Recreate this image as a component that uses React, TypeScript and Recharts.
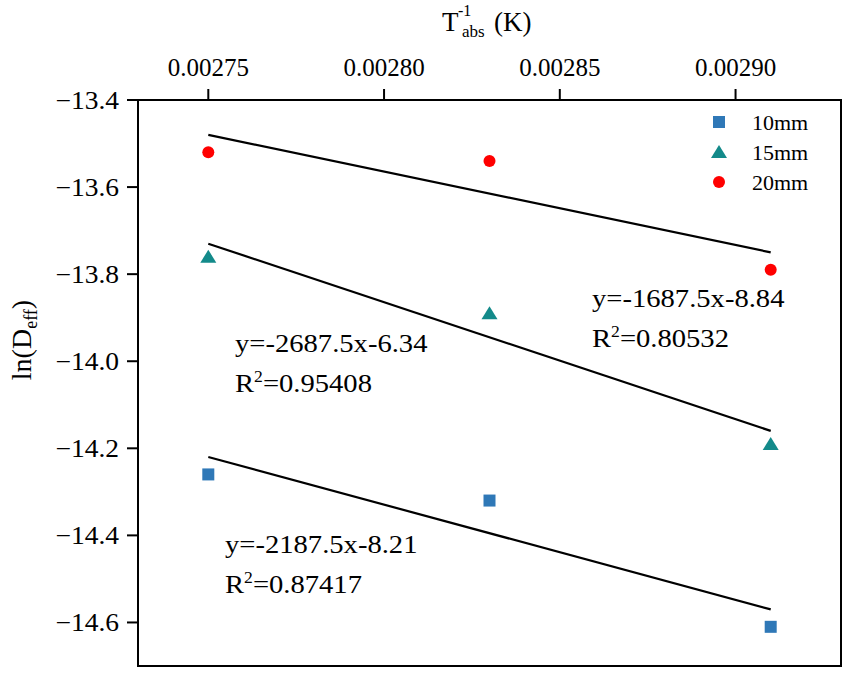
import { ScatterChart, Scatter, XAxis, YAxis, ReferenceArea, ReferenceLine } from "recharts";

const invTemp = [0.00275, 0.00283, 0.00291];
const ln10mm = [-14.26, -14.32, -14.61];
const ln15mm = [-13.76, -13.89, -14.19];
const ln20mm = [-13.52, -13.54, -13.79];

// fitted line ends, at first and last temperature
const fit10mm = [-14.22, -14.57];
const fit15mm = [-13.73, -14.16];
const fit20mm = [-13.48, -13.75];

const xTicks = [0.00275, 0.0028, 0.00285, 0.0029];
const yTicks = [-13.4, -13.6, -13.8, -14.0, -14.2, -14.4, -14.6];

const seriesNames = ["10mm", "15mm", "20mm"];
const equations = ["y=-2187.5x-8.21", "y=-2687.5x-6.34", "y=-1687.5x-8.84"];
const rSquared = ["0.87417", "0.95408", "0.80532"];

const BLUE = "#2f78b7";
const TEAL = "#138a8a";
const RED = "#ff0000";
const FONT = "'Liberation Serif', 'Times New Roman', serif";

const toPoints = (ys: number[]) => invTemp.map((x, i) => ({ x, y: ys[i] }));

const Square = (p: any) => <rect x={p.cx - 6} y={p.cy - 6} width={12} height={12} fill={BLUE} />;
const Triangle = (p: any) => (
  <polygon points={`${p.cx},${p.cy - 7} ${p.cx - 8},${p.cy + 6} ${p.cx + 8},${p.cy + 6}`} fill={TEAL} />
);
const Dot = (p: any) => <circle cx={p.cx} cy={p.cy} r={6} fill={RED} />;

const XTick = ({ x, y, payload }: any) => (
  <text x={x} y={y - 11} textAnchor="middle" fontSize={25} fontFamily={FONT} fill="#000">
    {payload.value.toFixed(5)}
  </text>
);

const YTick = ({ x, y, payload }: any) => (
  <text
    transform={`translate(${x - 6},${y}) scale(1.1,1)`}
    dy="0.35em"
    textAnchor="end"
    fontSize={25}
    fontFamily={FONT}
    fill="#000"
  >
    {payload.value.toFixed(1).replace("-", "\u2212")}
  </text>
);

const Stretched = ({ x, y, children, size = 26 }: any) => (
  <text transform={`translate(${x},${y}) scale(1.1,1)`} fontSize={size} fontFamily={FONT} fill="#000">
    {children}
  </text>
);

const labelPos = [
  { x: 225, y: 553 },
  { x: 235, y: 352 },
  { x: 592, y: 307 },
];

const legendMarks = [
  <rect key="s" x={713} y={116} width={12} height={12} fill={BLUE} />,
  <polygon key="t" points="719,145 711,158 727,158" fill={TEAL} />,
  <circle key="c" cx={719} cy={182} r={6} fill={RED} />,
];

export default function App() {
  const axisStroke = { stroke: "#000", strokeWidth: 2 };
  const fits = [fit10mm, fit15mm, fit20mm];
  return (
    <div style={{ position: "absolute", left: 0, top: 0, background: "#fff" }}>
      <ScatterChart width={847} height={673} margin={{ top: 40, right: 6, bottom: 7, left: 38 }}>
        <XAxis
          type="number"
          dataKey="x"
          orientation="top"
          height={60}
          domain={[0.00273, 0.00293]}
          ticks={xTicks}
          tickSize={11}
          axisLine={axisStroke}
          tickLine={axisStroke}
          tick={<XTick />}
          allowDataOverflow
        />
        <YAxis
          type="number"
          dataKey="y"
          width={100}
          domain={[-14.7, -13.4]}
          ticks={yTicks}
          tickSize={11}
          axisLine={axisStroke}
          tickLine={axisStroke}
          tick={<YTick />}
          allowDataOverflow
        />
        <ReferenceArea x1={0.00273} x2={0.00293} y1={-14.7} y2={-13.4} fill="none" stroke="#000" strokeWidth={2} />
        {fits.map((f, i) => (
          <ReferenceLine
            key={i}
            segment={[
              { x: invTemp[0], y: f[0] },
              { x: invTemp[invTemp.length - 1], y: f[1] },
            ]}
            stroke="#000"
            strokeWidth={2.2}
          />
        ))}
        <Scatter name={seriesNames[0]} data={toPoints(ln10mm)} shape={<Square />} isAnimationActive={false} />
        <Scatter name={seriesNames[1]} data={toPoints(ln15mm)} shape={<Triangle />} isAnimationActive={false} />
        <Scatter name={seriesNames[2]} data={toPoints(ln20mm)} shape={<Dot />} isAnimationActive={false} />

        {/* legend */}
        <g>
          {legendMarks}
          {seriesNames.map((n, i) => (
            <text key={n} x={752} y={130 + i * 30} fontSize={22} fontFamily={FONT} fill="#000">
              {n}
            </text>
          ))}
        </g>

        {/* fit equations */}
        {labelPos.map((p, i) => (
          <g key={i}>
            <Stretched x={p.x} y={p.y}>{equations[i]}</Stretched>
            <Stretched x={p.x} y={p.y + 40}>
              R<tspan dy={-10} fontSize={16}>2</tspan>
              <tspan dy={10}>={rSquared[i]}</tspan>
            </Stretched>
          </g>
        ))}

        {/* top axis title */}
        <g fontFamily={FONT} fill="#000">
          <text x={442} y={31} fontSize={27}>T</text>
          <text x={458} y={16} fontSize={16}>-1</text>
          <text x={462} y={37} fontSize={17}>abs</text>
          <text x={494} y={31} fontSize={27}>(K)</text>
        </g>

        {/* left axis title */}
        <text transform="translate(31,340) rotate(-90)" textAnchor="middle" fontSize={28} fontFamily={FONT} fill="#000">
          ln(D<tspan dy={6} fontSize={18}>eff</tspan>
          <tspan dy={-6}>)</tspan>
        </text>
      </ScatterChart>
    </div>
  );
}
